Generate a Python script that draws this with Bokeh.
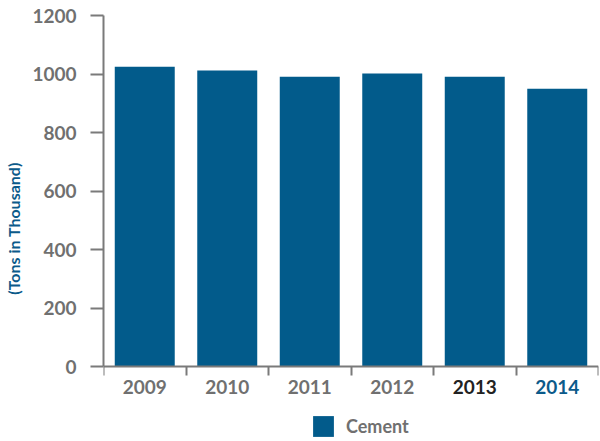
from bokeh.plotting import figure
from bokeh.models import Range1d, FixedTicker, Legend, LegendItem
from bokeh.embed import file_html
from bokeh.resources import INLINE

years = ["2009", "2010", "2011", "2012", "2013", "2014"]
cement = [1025, 1012, 991, 1002, 991, 950]
year_colors = ["#707070", "#707070", "#707070", "#707070", "#222222", "#0b5a8a"]
y_ticks = [0, 200, 400, 600, 800, 1000, 1200]

BAR = "#025b8b"
GRAY = "#707070"
AXIS = "#7a7a7a"
FONT = "Lato"

W, H = 600, 441
TOP, ZERO_Y = 15, 366          # pixel rows of 1200 and 0
Y_MAX = 1200
y_start = -Y_MAX * (H - ZERO_Y) / (ZERO_Y - TOP)   # room below zero for labels + legend

p = figure(width=W, height=H, output_backend="svg", toolbar_location=None,
           x_range=Range1d(0, len(years)), y_range=Range1d(y_start, Y_MAX),
           x_axis_location="above",
           min_border_left=103, min_border_right=2, min_border_top=TOP, min_border_bottom=0)
p.outline_line_color = None
p.grid.visible = False
p.background_fill_color = "white"
p.border_fill_color = "white"

xs = [i + 0.5 for i in range(len(years))]
r = p.vbar(x=xs, top=cement, width=0.727, bottom=0, fill_color=BAR, line_color=None)

# y axis
ya = p.yaxis[0]
ya.ticker = FixedTicker(ticks=y_ticks)
ya.bounds = (0, Y_MAX)
ya.axis_line_color = AXIS
ya.axis_line_width = 2
ya.major_tick_line_color = AXIS
ya.major_tick_line_width = 2
ya.major_tick_out = 13
ya.major_tick_in = 0
ya.minor_tick_line_color = None
ya.major_label_standoff = 14
ya.major_label_text_font = FONT
ya.major_label_text_font_style = "bold"
ya.major_label_text_font_size = "19px"
ya.major_label_text_color = GRAY
ya.axis_label = "(Tons in Thousand)"
ya.axis_label_text_font = FONT
ya.axis_label_text_font_style = "bold"
ya.axis_label_text_font_size = "16px"
ya.axis_label_text_color = "#0b5a8a"
ya.axis_label_standoff = 6

# x axis at y = 0: tick marks at category boundaries (as minor ticks, no labels)
xa = p.xaxis[0]
xa.fixed_location = 0
xa.ticker = FixedTicker(ticks=[], minor_ticks=list(range(len(years) + 1)))
xa.axis_line_color = AXIS
xa.axis_line_width = 2
xa.major_tick_line_color = None
xa.minor_tick_line_color = AXIS
xa.minor_tick_line_width = 2
xa.minor_tick_out = 0
xa.minor_tick_in = 9
xa.major_label_standoff = 0

# category labels under the axis
p.text(x=xs, y=[0] * len(years), text=years, y_offset=20,
       text_align="center", text_baseline="middle", text_color=year_colors,
       text_font={"value": FONT}, text_font_style="bold", text_font_size="19px")

legend = Legend(items=[LegendItem(label="Cement", renderers=[r])],
                location=(207, 2), orientation="horizontal",
                glyph_width=26, glyph_height=26, label_standoff=10,
                padding=0, margin=0, spacing=0,
                border_line_color=None, background_fill_alpha=0,
                label_text_font=FONT, label_text_font_style="bold",
                label_text_font_size="18px", label_text_color=GRAY)
p.add_layout(legend, "center")

open("out.html", "w").write(file_html(p, INLINE))
